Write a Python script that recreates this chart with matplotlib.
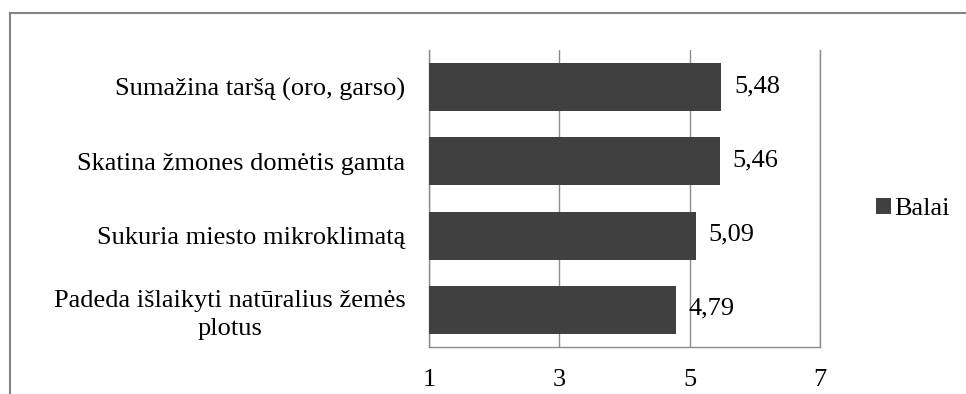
import matplotlib
matplotlib.use("Agg")
import matplotlib.pyplot as plt
from matplotlib.lines import Line2D
from matplotlib.patches import Patch

categories = [
    "Sumažina taršą (oro, garso)",
    "Skatina žmones domėtis gamta",
    "Sukuria miesto mikroklimatą",
    "Padeda išlaikyti natūralius žemės\nplotus",
]
values = [5.48, 5.46, 5.09, 4.79]
value_labels = ["5,48", "5,46", "5,09", "4,79"]
series_name = "Balai"
x_ticks = [1, 3, 5, 7]

BAR_COLOR = "#404040"
GRID_COLOR = "#8c8c8c"
FRAME_COLOR = "#858585"

plt.rcParams["font.family"] = ["Liberation Serif", "DejaVu Serif"]
plt.rcParams["font.size"] = 19

W, H = 966, 394
fig = plt.figure(figsize=(W / 100, H / 100), dpi=100)
ax = fig.add_axes([429 / W, 1 - 347 / H, (820 - 429) / W, (347 - 50) / H])

# first category at the top
ypos = list(range(len(categories)))[::-1]
ax.barh(ypos, values, height=0.645, color=BAR_COLOR, zorder=3)

for y, v, lab in zip(ypos, values, value_labels):
    ax.annotate(lab, xy=(v, y), xytext=(13, 1), textcoords="offset pixels",
                va="center", ha="left", color="black")

ax.set_xlim(x_ticks[0], x_ticks[-1])
ax.set_ylim(-0.5, len(categories) - 0.5)
ax.set_xticks(x_ticks)
ax.set_xticklabels([str(t) for t in x_ticks])
ax.set_yticks(ypos)
ax.set_yticklabels(categories, ha="right", multialignment="center",
                   linespacing=1.35)

ax.xaxis.grid(True, color=GRID_COLOR, lw=1, zorder=0)
ax.set_axisbelow(True)
ax.tick_params(axis="both", length=0)
ax.tick_params(axis="x", pad=16)
ax.tick_params(axis="y", pad=17)

ax.spines["top"].set_visible(False)
for side in ("left", "bottom", "right"):
    ax.spines[side].set_color(GRID_COLOR)
    ax.spines[side].set_linewidth(1)

ax.legend(handles=[Patch(facecolor=BAR_COLOR, label=series_name)],
          loc="center left", bbox_to_anchor=(876 / W, 1 - 209 / H),
          bbox_transform=fig.transFigure, frameon=False,
          handlelength=0.58, handleheight=0.58, handletextpad=0.1,
          borderpad=0, borderaxespad=0)

# outer chart frame (left and top edges)
fig.add_artist(Line2D([9.5 / W, 9.5 / W], [0, 1 - 13 / H],
                      transform=fig.transFigure, color=FRAME_COLOR, lw=1.5))
fig.add_artist(Line2D([9.5 / W, 1], [1 - 13 / H, 1 - 13 / H],
                      transform=fig.transFigure, color=FRAME_COLOR, lw=1.5))

fig.savefig("out.png", dpi=100)
